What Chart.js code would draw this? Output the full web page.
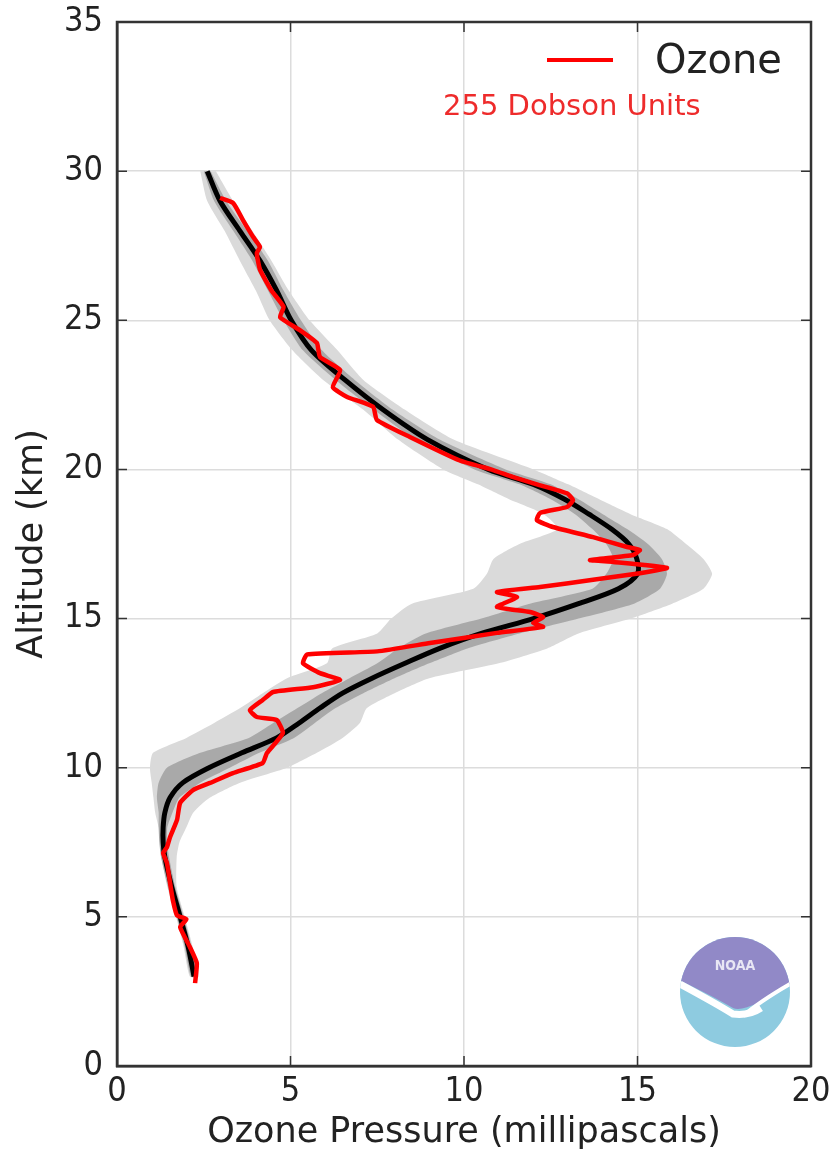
<!DOCTYPE html>
<html>
<head>
<meta charset="utf-8">
<script src="https://cdn.jsdelivr.net/npm/chart.js@4"></script>
<style>
  html, body { margin: 0; padding: 0; background: #fff; }
  #wrap { width: 836px; height: 1154px; }
</style>
</head>
<body>
<div id="wrap"><canvas id="ozoneChart" width="836" height="1154"></canvas></div>
<script>
// altitude grid for the climatology curve and its bands (km)
const bandAlt = [30, 29, 28, 27, 26, 25, 24, 23, 22, 21, 20, 19.5, 19, 18.5, 18, 17.5, 17, 16.5, 16, 15.5, 15, 14.5, 14, 13.5, 13, 12.5, 12, 11.5, 11, 10.5, 10, 9.5, 9, 8.5, 8, 7.5, 7, 6, 5, 4, 3];
// mean profile (mPa)
const meanVal = [2.6, 2.97, 3.54, 4.12, 4.6, 5.02, 5.6, 6.57, 7.67, 8.95, 10.7, 12.0, 12.9, 13.6, 14.25, 14.75, 14.98, 15.0, 14.45, 13.3, 12.0, 10.5, 9.3, 8.3, 7.35, 6.5, 5.85, 5.25, 4.6, 3.6, 2.65, 1.9, 1.53, 1.38, 1.33, 1.33, 1.38, 1.58, 1.82, 2.05, 2.22];
// inner (dark grey) band
const innerLow = [2.5, 2.8, 3.35, 3.9, 4.35, 4.8, 5.35, 6.3, 7.4, 8.6, 10.3, 11.6, 12.5, 13.2, 13.7, 14.1, 14.3, 14.1, 13.7, 11.9, 10.5, 8.9, 8.1, 7.5, 6.7, 5.9, 5.2, 4.5, 3.8, 2.4, 1.44, 1.2, 1.15, 1.2, 1.2, 1.22, 1.27, 1.47, 1.72, 1.95, 2.13];
const innerHigh = [2.7, 3.15, 3.75, 4.35, 4.8, 5.3, 5.9, 6.85, 7.95, 9.3, 11.2, 12.5, 13.3, 14.0, 14.7, 15.3, 15.7, 15.85, 15.65, 14.9, 13.3, 11.6, 10.1, 9.0, 8.0, 7.1, 6.3, 5.7, 5.1, 4.1, 3.25, 2.4, 1.8, 1.6, 1.45, 1.45, 1.5, 1.68, 1.92, 2.15, 2.32];
// outer (light grey) band
const outerLow = [2.4, 2.6, 3.1, 3.54, 4.0, 4.4, 5.05, 5.94, 7.1, 8.1, 9.4, 10.4, 11.3, 12.3, 12.7, 11.6, 10.85, 10.66, 10.27, 8.5, 7.9, 7.5, 6.2, 6.05, 4.9, 4.2, 3.55, 2.8, 2.0, 1.04, 0.95, 1.0, 1.05, 1.1, 1.2, 1.25, 1.28, 1.45, 1.7, 1.92, 2.1];
const outerHigh = [2.85, 3.35, 3.9, 4.45, 4.95, 5.55, 6.35, 7.1, 8.3, 9.7, 12.0, 13.0, 13.9, 14.8, 15.85, 16.4, 16.9, 17.15, 16.9, 16.0, 14.8, 13.3, 12.4, 11.0, 9.0, 8.0, 7.2, 7.0, 6.5, 5.76, 4.9, 3.55, 2.68, 2.2, 2.0, 1.8, 1.72, 1.72, 1.95, 2.18, 2.35];

// today's sounding
const ozoneAlt = [29.1, 28.93, 28.36, 27.8, 27.46, 27.25, 26.7, 26.0, 25.45, 25.1, 24.67, 24.24, 23.77, 23.33, 22.76, 22.43, 22.1, 21.66, 21.09, 20.3, 19.98, 19.75, 19.5, 19.2, 18.97, 18.74, 18.54, 18.3, 18.07, 17.73, 17.4, 17.3, 17.13, 16.96, 16.9, 16.7, 16.52, 16.3, 16.06, 15.89, 15.72, 15.39, 15.22, 15.05, 14.85, 14.72, 14.52, 14.18, 13.9, 13.8, 13.5, 13.17, 12.94, 12.7, 12.54, 12.27, 11.93, 11.7, 11.6, 11.16, 10.49, 10.16, 9.82, 9.49, 9.25, 8.82, 8.25, 7.68, 7.34, 7.14, 6.8, 6.13, 5.56, 5.05, 4.92, 4.66, 3.99, 3.45, 2.78];
const ozoneVal = [2.97, 3.35, 3.63, 3.92, 4.12, 4.03, 4.12, 4.45, 4.8, 4.7, 5.27, 5.76, 5.85, 6.43, 6.22, 6.63, 7.38, 7.49, 8.44, 9.88, 10.84, 11.4, 12.1, 12.97, 13.14, 12.97, 12.19, 12.1, 12.56, 13.72, 14.7, 15.07, 14.87, 13.63, 14.3, 15.85, 15.07, 13.72, 12.19, 10.95, 11.53, 10.95, 11.9, 12.28, 11.99, 12.28, 10.95, 9.02, 7.5, 5.48, 5.36, 5.85, 6.43, 5.65, 4.5, 4.2, 3.83, 4.03, 4.6, 4.78, 4.32, 4.2, 3.34, 2.68, 2.19, 1.82, 1.73, 1.53, 1.44, 1.33, 1.44, 1.53, 1.61, 1.73, 2.0, 1.82, 2.1, 2.3, 2.25];

const xTicks = [0, 5, 10, 15, 20];
const yTicks = [0, 5, 10, 15, 20, 25, 30, 35];
const legendLabel = 'Ozone';
const dobsonText = '255 Dobson Units';

const TICK_FONT = "'DejaVu Sans Condensed', 'DejaVu Sans', sans-serif";
const FONT = "'DejaVu Sans', sans-serif";

const pts = (xs, ys) => xs.map((v, i) => ({ x: v, y: ys[i] }));
// closed polygon: low edge top->bottom, then high edge bottom->top
const band = (lo, hi) => pts(lo, bandAlt).concat(pts(hi, bandAlt).reverse());

// inward ticks + full frame + legend + logo
const decorations = {
  id: 'decorations',
  afterDraw(chart) {
    const ctx = chart.ctx;
    const a = chart.chartArea;
    const xs = chart.scales.x, ys = chart.scales.y;
    ctx.save();
    ctx.strokeStyle = '#333';
    ctx.lineWidth = 1.5;
    ctx.beginPath();
    xTicks.forEach(t => {
      const px = xs.getPixelForValue(t);
      ctx.moveTo(px, a.bottom); ctx.lineTo(px, a.bottom - 10);
      ctx.moveTo(px, a.top); ctx.lineTo(px, a.top + 10);
    });
    yTicks.forEach(t => {
      const py = ys.getPixelForValue(t);
      ctx.moveTo(a.left, py); ctx.lineTo(a.left + 10, py);
      ctx.moveTo(a.right, py); ctx.lineTo(a.right - 10, py);
    });
    ctx.stroke();
    ctx.lineWidth = 2.5;
    ctx.strokeRect(a.left, a.top, a.right - a.left, a.bottom - a.top);

    // legend
    ctx.strokeStyle = '#ff0000';
    ctx.lineWidth = 4;
    ctx.beginPath();
    ctx.moveTo(a.right - 264, a.top + 38);
    ctx.lineTo(a.right - 198, a.top + 38);
    ctx.stroke();
    ctx.fillStyle = '#222';
    ctx.font = '40px ' + FONT;
    ctx.textBaseline = 'middle';
    ctx.textAlign = 'left';
    ctx.fillText(legendLabel, a.right - 156, a.top + 41);
    ctx.fillStyle = '#ee2b2b';
    ctx.font = '29px ' + FONT;
    ctx.fillText(dobsonText, a.right - 368, a.top + 85);

    // NOAA logo
    const cx = a.right - 76, cy = a.bottom - 74, r = 55;
    ctx.beginPath();
    ctx.arc(cx, cy, r, 0, Math.PI * 2);
    ctx.fillStyle = '#8ecbe0';
    ctx.fill();
    ctx.save();
    ctx.beginPath();
    ctx.arc(cx, cy, r, 0, Math.PI * 2);
    ctx.clip();
    ctx.beginPath();
    ctx.moveTo(cx - r - 5, cy - r - 5);
    ctx.lineTo(cx + r + 5, cy - r - 5);
    ctx.lineTo(cx + r + 5, cy - 12);
    ctx.quadraticCurveTo(cx + 12, cy + 22, cx - 2, cy + 16);
    ctx.quadraticCurveTo(cx - 22, cy + 4, cx - r - 5, cy - 14);
    ctx.closePath();
    ctx.fillStyle = '#9189c7';
    ctx.fill();
    ctx.strokeStyle = '#fff';
    ctx.lineWidth = 7;
    ctx.beginPath();
    ctx.moveTo(cx - r, cy - 8);
    ctx.quadraticCurveTo(cx - 18, cy + 12, cx - 2, cy + 22);
    ctx.quadraticCurveTo(cx + 14, cy + 24, cx + 26, cy + 16);
    ctx.stroke();
    ctx.lineWidth = 4;
    ctx.beginPath();
    ctx.moveTo(cx + r, cy - 8);
    ctx.quadraticCurveTo(cx + 24, cy + 10, cx + 8, cy + 24);
    ctx.stroke();
    ctx.restore();
    ctx.fillStyle = '#e8e6f4';
    ctx.font = 'bold 14px ' + TICK_FONT;
    ctx.textAlign = 'center';
    ctx.fillText('NOAA', cx, cy - 26);
    ctx.restore();
  }
};

new Chart(document.getElementById('ozoneChart'), {
  type: 'line',
  data: {
    datasets: [
      {
        label: legendLabel,
        data: pts(ozoneVal, ozoneAlt),
        borderColor: '#ff0000',
        borderWidth: 4.5,
        pointRadius: 0,
        tension: 0.15,
        fill: false
      },
      {
        label: 'mean',
        data: pts(meanVal, bandAlt),
        borderColor: '#000',
        borderWidth: 5,
        pointRadius: 0,
        tension: 0.3,
        fill: false
      },
      {
        label: 'inner',
        data: band(innerLow, innerHigh),
        borderWidth: 0,
        borderColor: 'rgba(0,0,0,0)',
        backgroundColor: '#a9a9a9',
        pointRadius: 0,
        tension: 0.2,
        fill: 'shape'
      },
      {
        label: 'outer',
        data: band(outerLow, outerHigh),
        borderWidth: 0,
        borderColor: 'rgba(0,0,0,0)',
        backgroundColor: '#dadada',
        pointRadius: 0,
        tension: 0.2,
        fill: 'shape'
      }
    ]
  },
  options: {
    responsive: false,
    animation: false,
    devicePixelRatio: 1,
    layout: { padding: { top: 22, right: 25, left: 0, bottom: 0 } },
    plugins: {
      legend: { display: false },
      tooltip: { enabled: false }
    },
    scales: {
      x: {
        type: 'linear',
        min: 0, max: 20,
        afterBuildTicks: s => { s.ticks = xTicks.map(v => ({ value: v })); },
        afterFit: s => { s.height = 88; s.paddingLeft = 0; s.paddingRight = 0; },
        ticks: { color: '#222', font: { family: TICK_FONT, size: 34 }, padding: 6 },
        grid: { color: '#dcdcdc', lineWidth: 1.5, drawTicks: false },
        border: { color: '#333', width: 2.5 },
        title: { display: true, text: 'Ozone Pressure (millipascals)', color: '#222', font: { family: FONT, size: 35 }, padding: 0 }
      },
      y: {
        type: 'linear',
        min: 0, max: 35,
        afterBuildTicks: s => { s.ticks = yTicks.map(v => ({ value: v })); },
        afterFit: s => { s.width = 117; s.paddingTop = 0; s.paddingBottom = 0; },
        ticks: { color: '#222', font: { family: TICK_FONT, size: 34 }, padding: 14 },
        grid: { color: '#dcdcdc', lineWidth: 1.5, drawTicks: false },
        border: { color: '#333', width: 2.5 },
        title: { display: true, text: 'Altitude (km)', color: '#222', font: { family: FONT, size: 35 }, padding: { top: 12, bottom: 0 } }
      }
    }
  },
  plugins: [decorations]
});
</script>
</body>
</html>
